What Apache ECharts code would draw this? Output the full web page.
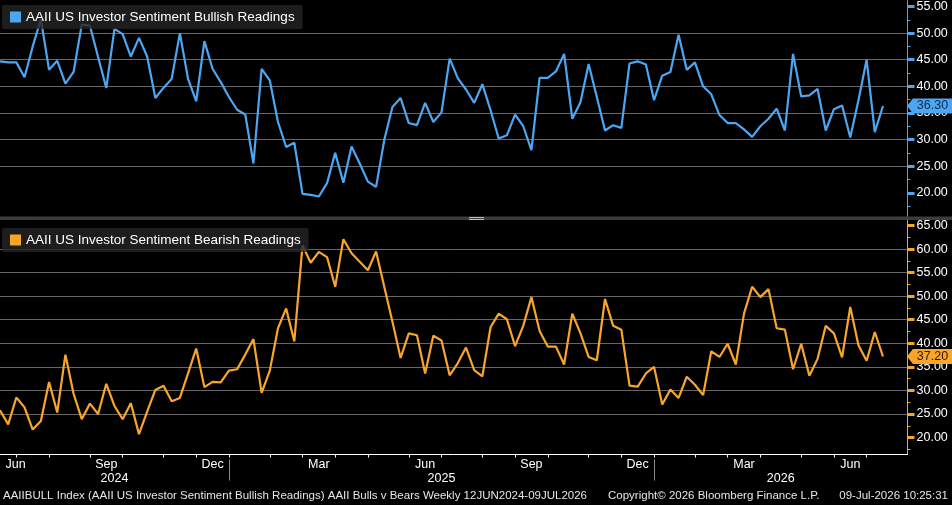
<!DOCTYPE html>
<html>
<head>
<meta charset="utf-8">
<script src="https://cdn.jsdelivr.net/npm/echarts@6/dist/echarts.min.js"></script>
<style>
  html, body { margin: 0; padding: 0; background: #000; }
  #chart { width: 952px; height: 505px; }
</style>
</head>
<body>
<div id="chart"></div>
<script>
// weekly readings, first week 13 Jun 2024, last 09 Jul 2026
const startDate = "2024-06-13";
const bullish = [44.7, 44.5, 44.5, 41.7, 47.5, 52.6, 43.1, 44.8, 40.5, 42.7,
    51.6, 51.4, 45.5, 39.7, 50.8, 49.8, 45.6, 49.1, 45.6, 37.8,
    39.7, 41.4, 50.0, 41.4, 37.2, 48.5, 43.3, 40.8, 38.0, 35.6,
    34.7, 25.5, 43.3, 41.1, 33.3, 28.6, 29.4, 19.8, 19.6, 19.3,
    21.8, 27.5, 21.9, 28.7, 25.5, 22.1, 21.1, 29.9, 36.1, 37.8,
    33.1, 32.7, 36.9, 33.3, 35.1, 45.2, 41.5, 39.4, 36.9, 40.4,
    35.5, 30.2, 30.8, 34.7, 32.5, 28.0, 41.6, 41.6, 42.8, 46.1,
    33.9, 37.0, 44.2, 38.0, 31.7, 32.7, 32.2, 44.3, 44.7, 44.1,
    37.4, 42.0, 42.7, 49.7, 43.1, 44.5, 40.0, 38.5, 34.6, 33.1,
    33.1, 31.9, 30.5, 32.5, 33.9, 35.8, 31.7, 46.1, 38.1, 38.3,
    39.5, 31.7, 35.7, 36.4, 30.4, 37.4, 45.0, 31.4, 36.3];
const bearish = [25.8, 22.8, 28.5, 26.4, 21.7, 23.5, 31.8, 25.3, 37.6, 29.3,
    23.9, 27.2, 25.0, 31.4, 26.7, 23.9, 27.3, 20.7, 25.5, 30.1,
    31.0, 27.7, 28.4, 33.6, 38.9, 30.7, 31.8, 31.7, 34.2, 34.5,
    37.6, 40.9, 29.5, 34.2, 43.2, 47.4, 40.4, 60.8, 57.1, 59.4,
    58.3, 52.0, 62.1, 59.1, 57.3, 55.5, 59.5, 52.0, 44.6, 36.9,
    42.1, 41.7, 33.6, 41.6, 40.6, 33.2, 35.8, 39.1, 34.3, 33.0,
    43.4, 46.3, 45.1, 39.4, 43.7, 49.8, 42.6, 39.3, 39.3, 35.5,
    46.3, 42.1, 37.1, 36.4, 49.4, 43.7, 42.9, 31.0, 30.8, 33.6,
    35.0, 27.0, 30.2, 28.4, 32.9, 31.2, 29.0, 38.3, 37.1, 39.9,
    35.5, 46.3, 52.0, 49.8, 51.5, 43.2, 42.9, 34.5, 39.9, 33.1,
    36.7, 43.7, 42.1, 37.0, 47.7, 39.6, 36.3, 42.4, 37.2];
const bullTicks = [20, 25, 30, 35, 40, 45, 50, 55];
const bearTicks = [20, 25, 30, 35, 40, 45, 50, 55, 60, 65];
const monthNames = ["Jan", "Feb", "Mar", "Apr", "May", "Jun", "Jul", "Aug", "Sep", "Oct", "Nov", "Dec"];
const labelMonths = ["Mar", "Jun", "Sep", "Dec"];

const bullName = "AAII US Investor Sentiment Bullish Readings";
const bearName = "AAII US Investor Sentiment Bearish Readings";
const blue = "#4ca6f2";
const orange = "#f8a62a";
const font = "'Liberation Sans', Arial, sans-serif";
const xMax = 111; // a few weeks of empty space after the last reading

// dates of each week
const dates = bullish.map((v, i) => {
    const d = new Date(startDate + "T00:00:00Z");
    d.setUTCDate(d.getUTCDate() + 7 * i);
    return d;
});

// month ticks sit on the last reading of each month
const monthTicks = [];
for (let i = 0; i < dates.length - 1; i++) {
    if (dates[i].getUTCMonth() !== dates[i + 1].getUTCMonth()) monthTicks.push(i);
}

// quarter labels centred between ticks, years centred on their span
const monthLabelMap = {};
if (labelMonths.includes(monthNames[dates[0].getUTCMonth()])) {
    monthLabelMap[monthTicks[0] - 0.1] = monthNames[dates[0].getUTCMonth()];
}
for (let k = 0; k < monthTicks.length - 1; k++) {
    const m = monthNames[dates[monthTicks[k] + 1].getUTCMonth()];
    if (labelMonths.includes(m)) monthLabelMap[(monthTicks[k] + monthTicks[k + 1]) / 2] = m;
}
const yearTicks = monthTicks.filter(i => dates[i + 1].getUTCMonth() === 0);
const yearBounds = [0, ...yearTicks, xMax];
const yearLabelMap = {};
for (let k = 0; k < yearBounds.length - 1; k++) {
    yearLabelMap[(yearBounds[k] + yearBounds[k + 1]) / 2] = String(dates[0].getUTCFullYear() + k);
}

function yAxisFor(gridIndex, min, max, ticks, color, splitNumber) {
    return {
        gridIndex: gridIndex,
        type: "value",
        position: "right",
        min: min,
        max: max,
        splitNumber: splitNumber,
        axisLine: { show: true, onZero: false, lineStyle: { color: color, width: 1 } },
        axisTick: { show: true, customValues: ticks, length: 7, lineStyle: { color: color, width: 3 } },
        minorTick: { show: true, splitNumber: 2, length: 3, lineStyle: { color: color, width: 1 } },
        axisLabel: {
            customValues: ticks, color: "#fff", fontSize: 12.5, fontFamily: font, margin: 9,
            formatter: v => Number(v).toFixed(2)
        },
        splitLine: { show: true, showMinLine: false, showMaxLine: false, lineStyle: { color: "#676767", width: 1 } },
        minorSplitLine: { show: false }
    };
}

function lastTag(arr, color, textColor) {
    const last = arr[arr.length - 1];
    return {
        silent: true,
        symbol: "path://M0,7L6,0L46,0L46,14L6,14Z",
        symbolSize: [45, 15],
        symbolOffset: [22, 0],
        symbolKeepAspect: false,
        itemStyle: { color: color },
        label: {
            show: true, position: "inside", color: textColor, fontSize: 12.5, fontFamily: font,
            offset: [3, 0], formatter: last.toFixed(2)
        },
        data: [{ coord: [xMax, last] }]
    };
}

function legendFor(name, top) {
    return {
        data: [name],
        left: 2,
        top: top,
        orient: "horizontal",
        icon: "rect",
        itemWidth: 11,
        itemHeight: 11,
        selectedMode: false,
        backgroundColor: "rgba(36,36,36,0.8)",
        borderRadius: 2,
        padding: [5, 8, 5, 8],
        textStyle: { color: "#fff", fontSize: 13.5, fontFamily: font }
    };
}

const chart = echarts.init(document.getElementById("chart"), null, { renderer: "canvas" });
const option = {
    backgroundColor: "#000",
    animation: false,
    textStyle: { fontFamily: font },
    legend: [legendFor(bullName, 5), legendFor(bearName, 228)],
    grid: [
        { left: 0, right: 44.5, top: 0, height: 216.5 },
        { left: 0, right: 44.5, top: 220, bottom: 50.5 }
    ],
    xAxis: [
        { gridIndex: 0, type: "value", min: 0, max: xMax, show: false },
        {
            gridIndex: 1, type: "value", min: 0, max: xMax, position: "bottom",
            axisLine: { show: true, onZero: false, lineStyle: { color: "#fff", width: 1 } },
            axisTick: { show: true, customValues: monthTicks, length: 3, lineStyle: { color: "#fff" } },
            axisLabel: {
                customValues: Object.keys(monthLabelMap).map(Number), color: "#fff", fontSize: 12.5,
                fontFamily: font, margin: 4, formatter: v => monthLabelMap[v] || ""
            },
            splitLine: { show: false }
        },
        {
            gridIndex: 1, type: "value", min: 0, max: xMax, position: "bottom", offset: 5,
            axisLine: { show: false, onZero: false },
            axisTick: { show: true, customValues: yearTicks, length: 21, lineStyle: { color: "#8a8a8a" } },
            axisLabel: {
                customValues: Object.keys(yearLabelMap).map(Number), color: "#fff", fontSize: 12.5,
                fontFamily: font, margin: 13, formatter: v => yearLabelMap[v] || ""
            },
            splitLine: { show: false }
        }
    ],
    yAxis: [
        yAxisFor(0, 15.54, 56.13, bullTicks, blue, 8),
        yAxisFor(1, 16.4, 66.17, bearTicks, orange, 10)
    ],
    series: [
        {
            name: bullName, type: "line", xAxisIndex: 0, yAxisIndex: 0,
            data: bullish.map((v, i) => [i, v]),
            showSymbol: false, clip: false,
            lineStyle: { color: blue, width: 2.2 }, itemStyle: { color: blue },
            markPoint: lastTag(bullish, blue, "#0a2d52")
        },
        {
            name: bearName, type: "line", xAxisIndex: 1, yAxisIndex: 1,
            data: bearish.map((v, i) => [i, v]),
            showSymbol: false, clip: false,
            lineStyle: { color: orange, width: 2.2 }, itemStyle: { color: orange },
            markPoint: lastTag(bearish, orange, "#2a1600")
        }
    ],
    graphic: [
        // divider between the two panels
        { type: "rect", left: 0, top: 216.5, shape: { width: 952, height: 3.5 }, style: { fill: "#3d3d3d" }, z: 10 },
        { type: "rect", left: 469, top: 217, shape: { width: 15, height: 1 }, style: { fill: "#bdbdbd" }, z: 11 },
        { type: "rect", left: 469, top: 219, shape: { width: 15, height: 1 }, style: { fill: "#bdbdbd" }, z: 11 },
        // footer
        {
            type: "text", left: 3, top: 490, z: 10,
            style: { text: "AAIIBULL Index (AAII US Investor Sentiment Bullish Readings) AAII Bulls v Bears Weekly 12JUN2024-09JUL2026", fill: "#e6e6e6", font: "11.5px " + font }
        },
        {
            type: "text", left: 608, top: 490, z: 10,
            style: { text: "Copyright\u00a9 2026 Bloomberg Finance L.P.", fill: "#e6e6e6", font: "11.5px " + font }
        },
        {
            type: "text", right: 4, top: 490, z: 10,
            style: { text: "09-Jul-2026 10:25:31", fill: "#e6e6e6", font: "11.5px " + font }
        }
    ]
};
chart.setOption(option);
window.addEventListener("resize", () => chart.resize());
</script>
</body>
</html>
